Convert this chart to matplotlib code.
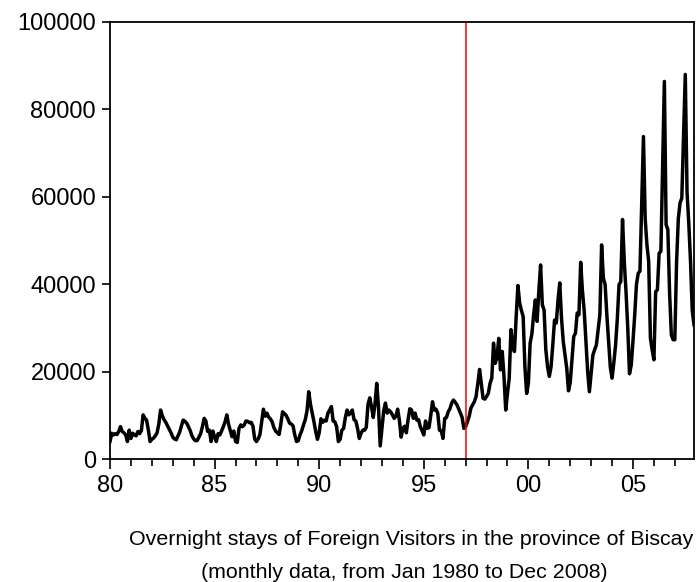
import numpy as np
import matplotlib
matplotlib.use("Agg")
import matplotlib.pyplot as plt

plt.rcParams["font.family"] = ["Liberation Sans", "DejaVu Sans"]

# Monthly overnight stays (thousands)
y1980 = [4.0, 5.9, 5.5, 5.8, 5.6, 6.3, 7.4, 6.3, 6.0, 5.5, 4.0, 6.6]
y1981 = [4.7, 5.9, 5.5, 5.3, 6.3, 5.8, 6.5, 10.1, 9.3, 8.9, 6.6, 4.0]
y1982 = [4.5, 4.8, 5.3, 6.0, 8.0, 11.2, 9.9, 9.0, 8.4, 7.6, 6.8, 6.0]
y1983 = [5.0, 4.6, 4.4, 5.3, 6.2, 7.6, 8.9, 8.6, 8.2, 7.4, 6.5, 5.3]
y1984 = [4.6, 4.2, 4.2, 5.0, 5.8, 7.4, 9.3, 8.7, 6.3, 6.6, 4.0, 6.4]
y1985 = [5.0, 4.0, 5.8, 5.5, 6.4, 7.4, 8.5, 10.1, 8.0, 6.5, 5.1, 6.4]
y1986 = [4.0, 3.8, 7.0, 7.8, 7.4, 7.8, 8.7, 8.6, 8.3, 8.4, 7.5, 4.6]
y1987 = [4.0, 4.6, 5.6, 8.5, 11.4, 9.8, 10.5, 9.6, 9.2, 8.5, 7.2, 6.4]
y1988 = [6.0, 5.6, 8.0, 10.8, 10.4, 10.0, 9.2, 8.2, 8.0, 7.6, 5.5, 4.0]
y1989 = [4.2, 5.5, 6.5, 7.8, 9.0, 11.0, 15.4, 12.5, 10.5, 8.5, 6.3, 4.5]
y1990 = [6.0, 9.2, 8.4, 8.9, 8.7, 10.5, 11.2, 12.0, 8.7, 8.5, 7.4, 4.0]
y1991 = [4.5, 6.6, 7.0, 9.5, 11.2, 10.1, 10.5, 11.2, 9.0, 8.7, 7.0, 4.7]
y1992 = [5.9, 6.6, 6.6, 7.2, 12.5, 14.0, 12.0, 9.5, 12.5, 17.3, 12.0, 3.0]
y1993 = [7.0, 11.0, 12.8, 10.5, 11.2, 10.8, 10.1, 9.3, 9.8, 11.4, 8.9, 5.0]
y1994 = [7.0, 7.5, 6.0, 9.0, 11.5, 11.2, 9.3, 10.5, 8.9, 9.0, 7.4, 6.5]
y1995 = [5.5, 8.7, 7.0, 7.2, 10.0, 13.1, 11.2, 11.4, 10.5, 6.6, 6.5, 4.7]
y1996 = [9.3, 9.5, 10.8, 11.5, 12.8, 13.5, 13.0, 12.4, 11.5, 10.5, 9.5, 7.0]
y1997 = [7.4, 8.5, 9.7, 11.6, 12.4, 13.1, 14.3, 17.3, 20.5, 17.3, 13.9, 13.7]
y1998 = [14.3, 15.0, 17.3, 18.5, 26.5, 21.9, 23.4, 27.6, 20.4, 24.6, 18.9, 11.2]
y1999 = [15.0, 18.5, 29.6, 25.4, 24.6, 32.6, 39.7, 35.7, 34.0, 32.6, 21.1, 15.0]
y2000 = [17.3, 26.5, 28.6, 33.0, 36.4, 31.5, 38.5, 44.4, 35.3, 34.1, 25.0, 21.1]
y2001 = [18.9, 21.1, 26.1, 31.8, 31.1, 36.4, 40.3, 32.2, 26.9, 23.8, 20.8, 15.6]
y2002 = [17.5, 22.7, 28.0, 28.8, 33.4, 33.0, 45.0, 38.5, 34.0, 27.0, 20.0, 15.4]
y2003 = [19.5, 23.8, 25.0, 26.1, 29.5, 33.0, 49.0, 41.4, 40.0, 33.0, 27.0, 21.0]
y2004 = [18.5, 22.0, 26.0, 32.0, 39.9, 40.6, 54.8, 45.2, 38.3, 30.0, 19.5, 21.5]
y2005 = [27.0, 33.0, 40.0, 42.5, 43.0, 58.0, 73.8, 55.0, 49.0, 45.2, 27.6, 25.0]
y2006 = [22.7, 38.3, 38.7, 47.1, 47.5, 67.0, 86.4, 53.6, 52.5, 38.0, 28.4, 27.3]
y2007 = [27.3, 45.0, 55.0, 58.6, 59.7, 74.0, 88.0, 61.2, 54.0, 45.2, 34.0, 30.7]

yearly = [y1980, y1981, y1982, y1983, y1984, y1985, y1986, y1987, y1988, y1989,
          y1990, y1991, y1992, y1993, y1994, y1995, y1996, y1997, y1998, y1999,
          y2000, y2001, y2002, y2003, y2004, y2005, y2006, y2007]
first_year = 1980
break_year = 1997.0

x_tick_years = [1980, 1985, 1990, 1995, 2000, 2005]
x_tick_labels = ["80", "85", "90", "95", "00", "05"]
y_ticks = [0, 20000, 40000, 60000, 80000, 100000]
y_tick_labels = ["0", "20000", "40000", "60000", "80000", "100000"]

caption1 = "Overnight stays of Foreign Visitors in the province of Biscay"
caption2 = "(monthly data, from Jan 1980 to Dec 2008)"

values = np.concatenate([np.array(v) for v in yearly]) * 1000.0
dates = first_year + np.arange(len(values)) / 12.0

W, H = 697, 582
fig = plt.figure(figsize=(W / 100, H / 100), dpi=100)
left, right, top, bottom = 110, 694, 22, 459
ax = fig.add_axes([left / W, 1 - bottom / H, (right - left) / W, (bottom - top) / H])

ax.plot(dates, values, color="black", lw=2.5)
ax.axvline(break_year, color="#ff0000", lw=1.1)

ax.set_xlim(dates[0], dates[-1])
ax.set_ylim(0, 100000)
ax.set_xticks(x_tick_years)
ax.set_xticklabels(x_tick_labels)
ax.set_xticks(np.arange(first_year, first_year + len(yearly)), minor=True)
ax.set_yticks(y_ticks)
ax.set_yticklabels(y_tick_labels)

for s in ax.spines.values():
    s.set_linewidth(1.3)
    s.set_color("black")

ax.tick_params(axis="x", which="major", direction="out", length=7.5, width=1.2,
               labelsize=17, pad=4)
ax.tick_params(axis="x", which="minor", direction="out", length=5, width=1.2)
ax.tick_params(axis="y", which="major", direction="out", length=6, width=1.2,
               labelsize=17, pad=4)

fig.text(411 / W, 1 - 545 / H, caption1, ha="center", va="baseline", fontsize=15.4)
fig.text(404 / W, 1 - 578 / H, caption2, ha="center", va="baseline", fontsize=15.4)

fig.savefig("out.png", dpi=100)
